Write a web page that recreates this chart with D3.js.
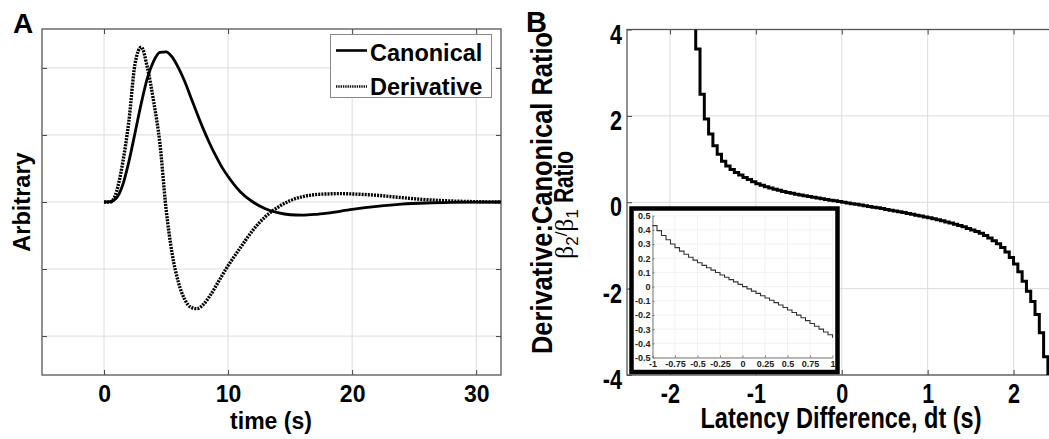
<!DOCTYPE html>
<html>
<head>
<meta charset="utf-8">
<script src="https://cdn.jsdelivr.net/npm/d3@7"></script>
<style>
  html, body { margin: 0; padding: 0; background: #fff; }
  svg { display: block; }
  .bold-a { font-family: "Liberation Sans", Arial, sans-serif; font-weight: bold; fill: #000; }
  .bold-b { font-family: "Liberation Sans", Arial, sans-serif; font-weight: bold; fill: #000; }
</style>
</head>
<body>
<div id="chart"></div>
<script>
// Panel A: canonical HRF and its temporal derivative (arbitrary units)
const canonTime = [0, 0.5, 1, 1.5, 2, 2.5, 3, 3.5, 4, 4.5, 5, 5.5, 6, 6.5, 7, 7.5, 8, 8.5, 9, 9.5,
  10, 11, 12, 13, 14, 15, 16, 17, 18, 20, 22, 24, 26, 28, 30, 32];
const canonical = [0, 0.005, 0.06, 0.25, 0.6, 1.03, 1.47, 1.85, 2.1, 2.23, 2.24, 2.16, 2.0, 1.8, 1.56, 1.32, 1.09, 0.88, 0.69, 0.52,
  0.38, 0.15, 0.0, -0.1, -0.16, -0.19, -0.195, -0.185, -0.165, -0.11, -0.065, -0.032, -0.015, -0.006, -0.002, 0];

const derivTime = [0, 0.5, 1, 1.5, 2, 2.5, 3, 3.5, 4, 4.5, 5, 5.5, 6, 6.5, 7, 7.5, 8, 8.5, 9, 9.5,
  10, 11, 12, 13, 14, 15, 16, 17, 18, 19, 20, 22, 24, 26, 28, 30, 32];
const derivative = [0, 0.0, 0.15, 0.58, 1.2, 2.06, 2.31, 2.0, 1.5, 0.88, -0.1, -0.78, -1.2, -1.45, -1.57, -1.59, -1.53, -1.41, -1.26, -1.1,
  -0.95, -0.68, -0.42, -0.22, -0.08, 0.02, 0.08, 0.11, 0.12, 0.125, 0.12, 0.1, 0.065, 0.035, 0.015, 0.005, 0];

const timeTicks = [0, 10, 20, 30];
const arbTicks = [-2, -1, 0, 1, 2];

// Panel B: beta2/beta1 ratio vs latency difference (sampled every 0.05 s from -1.75 s)
const dtStart = -1.75;
const dtStep = 0.05;
const ratio = [
  4.6, 3.55, 2.50, 1.93, 1.58, 1.31, 1.11, 0.95, 0.84, 0.76,
  0.69, 0.63, 0.575, 0.525, 0.475, 0.43, 0.395, 0.36, 0.33, 0.30,
  0.275, 0.25, 0.228, 0.207, 0.187, 0.168, 0.15, 0.133, 0.116, 0.099,
  0.082, 0.066, 0.049, 0.033, 0.016, 0.0, -0.016, -0.032, -0.048, -0.064,
  -0.08, -0.096, -0.113, -0.13, -0.147, -0.165, -0.183, -0.201, -0.22, -0.24,
  -0.26, -0.28, -0.30, -0.32, -0.34, -0.36, -0.38, -0.405, -0.43, -0.455,
  -0.48, -0.51, -0.54, -0.57, -0.605, -0.64, -0.68, -0.72, -0.77, -0.83,
  -0.89, -0.96, -1.05, -1.15, -1.28, -1.43, -1.61, -1.83, -2.06, -2.30,
  -2.60, -3.02, -3.58, -4.6
];
const dtTicks = [-2, -1, 0, 1, 2];
const ratioTicks = [-4, -2, 0, 2, 4];
const insetXTicks = [-1, -0.75, -0.5, -0.25, 0, 0.25, 0.5, 0.75, 1];
const insetYTicks = [0.5, 0.4, 0.3, 0.2, 0.1, 0, -0.1, -0.2, -0.3, -0.4, -0.5];

const W = 1049, H = 439;
const svg = d3.select("#chart").append("svg")
  .attr("width", W).attr("height", H)
  .attr("viewBox", `0 0 ${W} ${H}`);
svg.append("rect").attr("width", W).attr("height", H).attr("fill", "#fff");

const defs = svg.append("defs");
const fmt = d => String(d);

// panel B lettering is condensed in the figure: squeeze texts along their length
function squeeze(sel, f) {
  sel.each(function() {
    const len = this.getComputedTextLength();
    d3.select(this).attr("textLength", len * f).attr("lengthAdjust", "spacingAndGlyphs");
  });
}

// ---------- Panel A ----------
const A = { left: 42, right: 501, top: 29, bottom: 375 };
const xA = d3.scaleLinear().domain([-5, 32]).range([A.left, A.right]);
const yA = d3.scaleLinear().domain([-2.58, 2.58]).range([A.bottom, A.top]);

const gA = svg.append("g");

// grid
gA.append("g").selectAll("line").data(timeTicks).join("line")
  .attr("x1", d => xA(d)).attr("x2", d => xA(d))
  .attr("y1", A.top).attr("y2", A.bottom)
  .attr("stroke", "#dcdcdc").attr("stroke-width", 1);
gA.append("g").selectAll("line").data(arbTicks).join("line")
  .attr("x1", A.left).attr("x2", A.right)
  .attr("y1", d => yA(d)).attr("y2", d => yA(d))
  .attr("stroke", "#dcdcdc").attr("stroke-width", 1);

// inward ticks + labels
const axA = [
  gA.append("g").attr("transform", `translate(0,${A.bottom})`)
    .call(d3.axisBottom(xA).tickValues(timeTicks).tickSizeInner(-5).tickSizeOuter(0).tickPadding(11).tickFormat(fmt)),
  gA.append("g").attr("transform", `translate(0,${A.top})`)
    .call(d3.axisTop(xA).tickValues(timeTicks).tickSizeInner(-5).tickSizeOuter(0).tickFormat("")),
  gA.append("g").attr("transform", `translate(${A.left},0)`)
    .call(d3.axisLeft(yA).tickValues(arbTicks).tickSizeInner(-5).tickSizeOuter(0).tickFormat("")),
  gA.append("g").attr("transform", `translate(${A.right},0)`)
    .call(d3.axisRight(yA).tickValues(arbTicks).tickSizeInner(-5).tickSizeOuter(0).tickFormat(""))
];
axA.forEach(g => {
  g.select(".domain").remove();
  g.selectAll(".tick line").attr("stroke", "#444");
  g.selectAll(".tick text").attr("class", "bold-a").style("font-size", "23px");
});

gA.append("rect")
  .attr("x", A.left).attr("y", A.top)
  .attr("width", A.right - A.left).attr("height", A.bottom - A.top)
  .attr("fill", "none").attr("stroke", "#555").attr("stroke-width", 1.3);

const lineA = d3.line().curve(d3.curveMonotoneX);
gA.append("path")
  .attr("d", lineA(derivTime.map((t, i) => [xA(t), yA(derivative[i])])))
  .attr("fill", "none").attr("stroke", "#000")
  .attr("stroke-width", 3.4).attr("stroke-dasharray", "2,1.1");
gA.append("path")
  .attr("d", lineA(canonTime.map((t, i) => [xA(t), yA(canonical[i])])))
  .attr("fill", "none").attr("stroke", "#000").attr("stroke-width", 2.8);

// legend
const lg = gA.append("g");
lg.append("rect").attr("x", 330.5).attr("y", 34.5).attr("width", 161).attr("height", 63)
  .attr("fill", "#fff").attr("stroke", "#888").attr("stroke-width", 1);
lg.append("line").attr("x1", 336).attr("x2", 367).attr("y1", 50.5).attr("y2", 50.5)
  .attr("stroke", "#000").attr("stroke-width", 2.6);
lg.append("line").attr("x1", 336).attr("x2", 367).attr("y1", 86.5).attr("y2", 86.5)
  .attr("stroke", "#111").attr("stroke-width", 2.4).attr("stroke-dasharray", "1.4,0.9");
lg.append("text").attr("class", "bold-a").attr("x", 370).attr("y", 61)
  .style("font-size", "23.5px").text("Canonical");
lg.append("text").attr("class", "bold-a").attr("x", 370).attr("y", 95)
  .style("font-size", "23.5px").text("Derivative");

gA.append("text").attr("class", "bold-a").attr("x", 13).attr("y", 33)
  .style("font-size", "28px").text("A");
gA.append("text").attr("class", "bold-a")
  .attr("transform", "translate(30,202) rotate(-90)")
  .attr("text-anchor", "middle").style("font-size", "23.5px").text("Arbitrary");
gA.append("text").attr("class", "bold-a").attr("x", 271).attr("y", 429)
  .attr("text-anchor", "middle").style("font-size", "23px").text("time (s)");

// ---------- Panel B ----------
const B = { left: 627, right: 1056.5, top: 29.5, bottom: 375 };
const xB = d3.scaleLinear().domain([-2.5, 2.5]).range([B.left, B.right]);
const yB = d3.scaleLinear().domain([-4, 4]).range([B.bottom, B.top]);
const gB = svg.append("g");

gB.append("g").selectAll("line").data(dtTicks).join("line")
  .attr("x1", d => xB(d)).attr("x2", d => xB(d))
  .attr("y1", B.top).attr("y2", B.bottom)
  .attr("stroke", "#dcdcdc").attr("stroke-width", 1);
gB.append("g").selectAll("line").data(ratioTicks).join("line")
  .attr("x1", B.left).attr("x2", B.right)
  .attr("y1", d => yB(d)).attr("y2", d => yB(d))
  .attr("stroke", "#dcdcdc").attr("stroke-width", 1);

const axB = [
  gB.append("g").attr("transform", `translate(0,${B.bottom})`)
    .call(d3.axisBottom(xB).tickValues(dtTicks).tickSizeInner(-5).tickSizeOuter(0).tickPadding(9).tickFormat(fmt)),
  gB.append("g").attr("transform", `translate(0,${B.top})`)
    .call(d3.axisTop(xB).tickValues(dtTicks).tickSizeInner(-5).tickSizeOuter(0).tickFormat("")),
  gB.append("g").attr("transform", `translate(${B.left},0)`)
    .call(d3.axisLeft(yB).tickValues(ratioTicks).tickSizeInner(-5).tickSizeOuter(0).tickPadding(5).tickFormat(fmt))
];
axB.forEach(g => {
  g.select(".domain").remove();
  g.selectAll(".tick line").attr("stroke", "#444");
  g.selectAll(".tick text").attr("class", "bold-b").style("font-size", "27px");
  squeeze(g.selectAll(".tick text"), 0.8);
});
axB[2].selectAll(".tick text").attr("dy", "0.5em");

gB.append("rect")
  .attr("x", B.left).attr("y", B.top)
  .attr("width", B.right - B.left).attr("height", B.bottom - B.top)
  .attr("fill", "none").attr("stroke", "#555").attr("stroke-width", 1.3);

defs.append("clipPath").attr("id", "clipB").append("rect")
  .attr("x", B.left).attr("y", B.top)
  .attr("width", B.right - B.left).attr("height", B.bottom - B.top);

const ratioPts = ratio.map((v, i) => ({ dt: dtStart + i * dtStep, v: v }));
const stairB = d3.line().curve(d3.curveStepAfter)
  .x(d => xB(d.dt)).y(d => yB(d.v));
gB.append("path").attr("clip-path", "url(#clipB)")
  .attr("d", stairB(ratioPts))
  .attr("fill", "none").attr("stroke", "#000").attr("stroke-width", 3);

// inset
const gI = gB.append("g");
gI.append("rect").attr("x", 631.5).attr("y", 208.5).attr("width", 206).attr("height", 163.5)
  .attr("fill", "#fff").attr("stroke", "#000").attr("stroke-width", 4.5);
const xI = d3.scaleLinear().domain([-1, 1]).range([652.5, 832.5]);
const yI = d3.scaleLinear().domain([-0.5, 0.5]).range([357.5, 215.7]);

gI.append("g").selectAll("line").data(insetXTicks).join("line")
  .attr("x1", d => xI(d)).attr("x2", d => xI(d))
  .attr("y1", yI(0.5)).attr("y2", yI(-0.5))
  .attr("stroke", "#ececec").attr("stroke-width", 0.7);
gI.append("g").selectAll("line").data(insetYTicks).join("line")
  .attr("x1", xI(-1)).attr("x2", xI(1))
  .attr("y1", d => yI(d)).attr("y2", d => yI(d))
  .attr("stroke", "#ececec").attr("stroke-width", 0.7);

const axI = [
  gI.append("g").attr("transform", `translate(0,${yI(-0.5)})`)
    .call(d3.axisBottom(xI).tickValues(insetXTicks).tickSizeInner(-2).tickSizeOuter(0).tickPadding(3).tickFormat(fmt)),
  gI.append("g").attr("transform", `translate(${xI(-1)},0)`)
    .call(d3.axisLeft(yI).tickValues(insetYTicks).tickSizeInner(-2).tickSizeOuter(0).tickPadding(2).tickFormat(fmt))
];
axI.forEach(g => {
  g.select(".domain").attr("stroke", "#777");
  g.selectAll(".tick line").attr("stroke", "#777");
  g.selectAll(".tick text")
    .style("font-family", "'Liberation Sans', Arial, sans-serif")
    .style("font-weight", "bold").style("font-size", "9px").attr("fill", "#222");
});

const stairI = d3.line().curve(d3.curveStepAfter)
  .x(d => xI(d.dt)).y(d => yI(d.v));
gI.append("path")
  .attr("d", stairI(ratioPts.filter(d => d.dt >= -1.0001 && d.dt <= 1.0001)))
  .attr("fill", "none").attr("stroke", "#333").attr("stroke-width", 1.1);

// labels
gB.append("text").attr("class", "bold-a").attr("x", 526).attr("y", 32)
  .style("font-size", "29px").text("B");
gB.append("text").attr("class", "bold-b").attr("x", 841).attr("y", 428)
  .attr("text-anchor", "middle").style("font-size", "29px")
  .attr("textLength", 281).attr("lengthAdjust", "spacingAndGlyphs")
  .text("Latency Difference, dt (s)");
gB.append("text").attr("class", "bold-b")
  .attr("transform", "translate(552,193) rotate(-90)")
  .attr("text-anchor", "middle").style("font-size", "30px")
  .attr("textLength", 322).attr("lengthAdjust", "spacingAndGlyphs")
  .text("Derivative:Canonical Ratio");

const l2 = gB.append("text")
  .attr("transform", "translate(573,205) rotate(-90)")
  .attr("text-anchor", "middle");
const serif = "'Liberation Serif', 'DejaVu Serif', serif";
const sans = "'Liberation Sans', Arial, sans-serif";
l2.append("tspan").style("font-family", serif).style("font-size", "26px").text("β");
l2.append("tspan").attr("dy", 5).style("font-family", sans).style("font-size", "17px").text("2");
l2.append("tspan").attr("dy", -11).style("font-family", sans).style("font-size", "17px").text("/");
l2.append("tspan").attr("dy", 6).style("font-family", serif).style("font-size", "26px").text("β");
l2.append("tspan").attr("dy", 5).style("font-family", sans).style("font-size", "17px").text("1");
l2.append("tspan").attr("dy", -5).attr("class", "bold-b").style("font-size", "27px")
  .attr("textLength", 58).attr("lengthAdjust", "spacingAndGlyphs").text(" Ratio");
</script>
</body>
</html>
